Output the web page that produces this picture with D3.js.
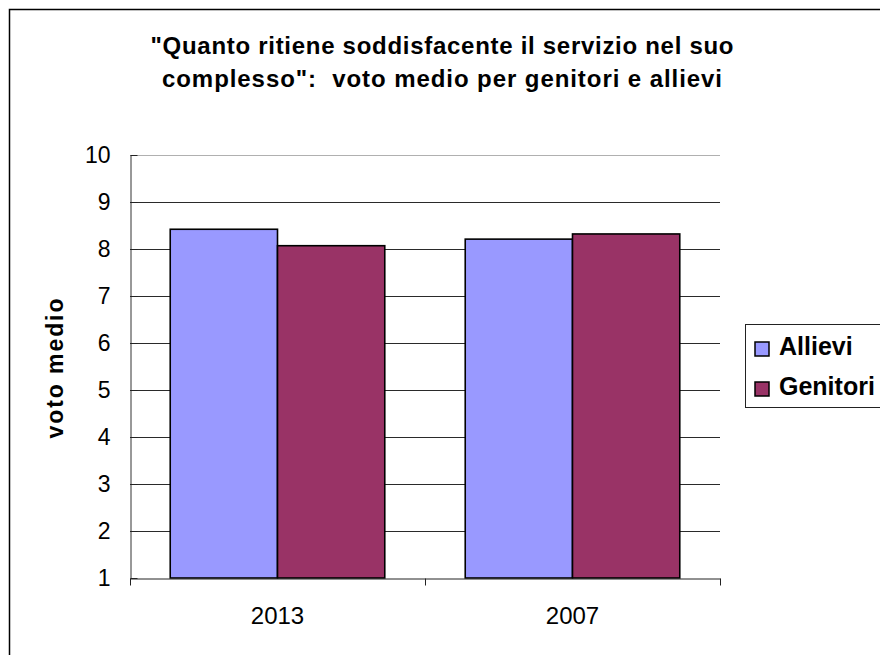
<!DOCTYPE html>
<html>
<head>
<meta charset="utf-8">
<script src="https://cdn.jsdelivr.net/npm/d3@7"></script>
<style>
  body { margin: 0; background: #fff; }
  svg { display: block; font-family: "Liberation Sans", Arial, sans-serif; }
</style>
</head>
<body>
<svg id="chart" width="880" height="655"></svg>
<script>
const years = ['2013', '2007'];
const seriesNames = ['Allievi', 'Genitori'];
const allievi = [8.42, 8.21];
const genitori = [8.07, 8.32];
const yTicks = [1, 2, 3, 4, 5, 6, 7, 8, 9, 10];
const titleLines = ['"Quanto ritiene soddisfacente il servizio nel suo', 'complesso":  voto medio per genitori e allievi'];

const colors = { Allievi: '#9999ff', Genitori: '#993366' };

const svg = d3.select('#chart');
const plot = { left: 130, right: 720, top: 155, bottom: 578 };

// outer chart border (runs off the right and bottom edge)
svg.append('rect')
  .attr('x', 9.5).attr('y', 9.5)
  .attr('width', 900).attr('height', 700)
  .attr('fill', 'none').attr('stroke', '#000').attr('stroke-width', 1.5);

// title
const titleWidths = [583, 560];
svg.append('g')
  .selectAll('text')
  .data(titleLines)
  .join('text')
  .attr('x', 442)
  .attr('y', (d, i) => 54 + i * 33)
  .attr('text-anchor', 'middle')
  .attr('font-weight', 'bold')
  .attr('font-size', 24)
  .style('white-space', 'pre')
  .attr('textLength', (d, i) => titleWidths[i])
  .attr('lengthAdjust', 'spacing')
  .text((d) => d);

const x0 = d3.scaleBand().domain(years).range([plot.left, plot.right]);
const x1 = d3.scaleBand().domain(seriesNames).range([0, x0.bandwidth()]).paddingOuter(0.375);
const y = d3.scaleLinear().domain([1, 10]).range([plot.bottom, plot.top]);

// gridlines
svg.append('g')
  .selectAll('line')
  .data(yTicks.filter((d) => d > 1))
  .join('line')
  .attr('x1', plot.left).attr('x2', plot.right)
  .attr('y1', (d) => Math.round(y(d)) + 0.5)
  .attr('y2', (d) => Math.round(y(d)) + 0.5)
  .attr('stroke', (d) => (d === 10 ? '#b0b0b0' : '#2a2a2a'))
  .attr('stroke-width', 1);

// bars
const data = years.map((yr, i) => ({ year: yr, Allievi: allievi[i], Genitori: genitori[i] }));
svg.append('g')
  .selectAll('g')
  .data(data)
  .join('g')
  .attr('transform', (d) => `translate(${x0(d.year)},0)`)
  .selectAll('rect')
  .data((d) => seriesNames.map((s) => ({ key: s, value: d[s] })))
  .join('rect')
  .attr('x', (d) => x1(d.key))
  .attr('y', (d) => y(d.value))
  .attr('width', x1.bandwidth())
  .attr('height', (d) => y(1) - y(d.value))
  .attr('fill', (d) => colors[d.key])
  .attr('stroke', '#000')
  .attr('stroke-width', 1.6);

// y axis, ticks point inward
const yAxis = svg.append('g')
  .attr('transform', `translate(${plot.left + 0.5},0)`)
  .call(d3.axisLeft(y).tickValues(yTicks).tickSize(-7).tickPadding(20).tickSizeOuter(0));
yAxis.select('.domain').attr('stroke', '#333');
yAxis.selectAll('.tick line').attr('stroke', '#222');
yAxis.selectAll('.tick text')
  .attr('font-size', 23).attr('fill', '#000')
  .attr('font-family', '"Liberation Sans", Arial, sans-serif');

// x axis
const xAxis = svg.append('g')
  .attr('transform', `translate(0,${Math.round(y(1)) + 0.5})`)
  .call(d3.axisBottom(x0).tickSize(0).tickPadding(28));
xAxis.select('.domain').attr('stroke', '#222');
xAxis.selectAll('.tick text')
  .attr('font-size', 24).attr('fill', '#000')
  .attr('font-family', '"Liberation Sans", Arial, sans-serif');
xAxis.append('g')
  .selectAll('line')
  .data([plot.left, x0(years[1]), plot.right])
  .join('line')
  .attr('x1', (d) => Math.round(d) + 0.5).attr('x2', (d) => Math.round(d) + 0.5)
  .attr('y1', 0).attr('y2', 7)
  .attr('stroke', '#222');

// y axis title
svg.append('text')
  .attr('transform', `translate(63,${(plot.top + plot.bottom) / 2 + 2}) rotate(-90)`)
  .attr('text-anchor', 'middle')
  .attr('font-weight', 'bold')
  .attr('font-size', 23)
  .attr('textLength', 140)
  .attr('lengthAdjust', 'spacing')
  .text('voto medio');

// legend
const legend = svg.append('g').attr('transform', 'translate(745,324)');
legend.append('rect')
  .attr('x', 0.5).attr('y', 0.5)
  .attr('width', 200).attr('height', 83)
  .attr('fill', '#fff').attr('stroke', '#222').attr('stroke-width', 1);
const item = legend.selectAll('g.item')
  .data(seriesNames)
  .join('g')
  .attr('class', 'item')
  .attr('transform', (d, i) => `translate(10,${31 + i * 40})`);
item.append('rect')
  .attr('x', 0).attr('y', -13)
  .attr('width', 14).attr('height', 14)
  .attr('fill', (d) => colors[d])
  .attr('stroke', '#000').attr('stroke-width', 1.5);
item.append('text')
  .attr('x', 24).attr('y', 0)
  .attr('font-weight', 'bold')
  .attr('font-size', 25)
  .text((d) => d);
</script>
</body>
</html>
